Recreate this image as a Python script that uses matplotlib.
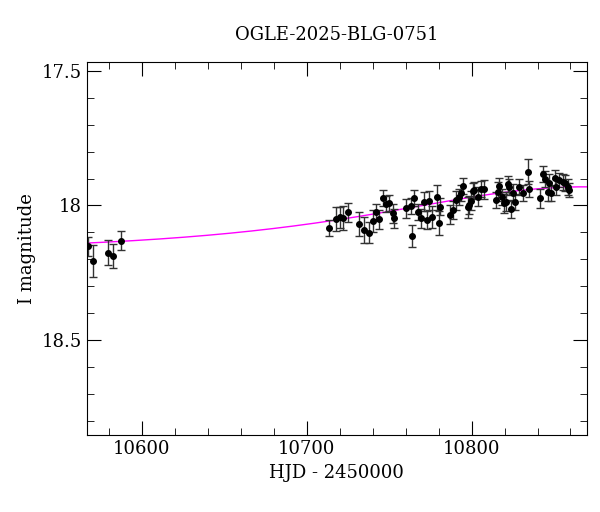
import numpy as np
import matplotlib
matplotlib.use("Agg")
import matplotlib.pyplot as plt
from matplotlib.ticker import MultipleLocator

plt.rcParams["font.family"] = "DejaVu Serif"

# ── Photometry ────────────────────────────────────────────────────────────────
hjd = [10567.3, 10570.3, 10579.4, 10582.5, 10587.5,
       10713.8, 10717.9, 10719.9, 10721.9, 10724.9, 10732.0, 10735.0, 10738.0,
       10740.0, 10742.1, 10743.7, 10746.1, 10748.2, 10750.2, 10752.2, 10753.2,
       10760.3, 10763.3, 10763.9, 10765.3, 10767.3, 10769.4, 10771.4, 10772.8,
       10774.0, 10776.0, 10778.8, 10780.0, 10780.9, 10786.9, 10788.5, 10790.6,
       10792.2, 10793.6, 10795.0, 10797.6, 10798.6, 10799.7, 10800.6, 10801.7,
       10803.7, 10805.7, 10807.7, 10814.8, 10815.8, 10816.8, 10818.5, 10819.9,
       10820.9, 10821.9, 10822.9, 10823.9, 10825.3, 10826.5, 10828.9, 10830.9,
       10834.0, 10835.0, 10841.7, 10843.1, 10844.7, 10846.1, 10847.1, 10848.2,
       10850.8, 10851.5, 10853.2, 10855.2, 10856.8, 10858.2, 10859.2]
mag = [18.151, 18.205, 18.175, 18.187, 18.131,
       18.085, 18.051, 18.044, 18.046, 18.025, 18.069, 18.091, 18.101,
       18.058, 18.025, 18.051, 17.973, 17.994, 17.990, 18.029, 18.048,
       18.010, 18.002, 18.113, 17.973, 18.025, 18.048, 17.986, 18.054,
       17.982, 18.042, 17.970, 18.064, 18.004, 18.035, 18.017, 17.980,
       17.967, 17.955, 17.928, 18.007, 17.998, 17.982, 17.945, 17.942,
       17.967, 17.940, 17.940, 17.980, 17.949, 17.928, 17.970, 17.992,
       17.986, 17.920, 17.932, 18.013, 17.952, 17.986, 17.930, 17.955,
       17.874, 17.940, 17.973, 17.883, 17.903, 17.949, 17.917, 17.955,
       17.899, 17.930, 17.905, 17.912, 17.917, 17.930, 17.942]
err = [0.035, 0.060, 0.045, 0.045, 0.035,
       0.030, 0.045, 0.040, 0.045, 0.035, 0.045, 0.050, 0.040,
       0.040, 0.030, 0.035, 0.030, 0.030, 0.030, 0.035, 0.035,
       0.035, 0.030, 0.040, 0.030, 0.030, 0.035, 0.035, 0.035,
       0.035, 0.040, 0.045, 0.045, 0.030, 0.035, 0.035, 0.035,
       0.030, 0.030, 0.030, 0.040, 0.035, 0.035, 0.030, 0.030,
       0.035, 0.030, 0.035, 0.030, 0.035, 0.030, 0.030, 0.035,
       0.035, 0.030, 0.030, 0.035, 0.030, 0.030, 0.030, 0.030,
       0.045, 0.030, 0.035, 0.030, 0.030, 0.035, 0.035, 0.030,
       0.030, 0.030, 0.025, 0.030, 0.030, 0.030, 0.025]

I0, T0, U0, TE = 18.175, 10868.0, 1.15, 140.0

def model_mag(t):
    u = np.sqrt(U0 ** 2 + ((t - T0) / TE) ** 2)
    amp = (u ** 2 + 2) / (u * np.sqrt(u ** 2 + 4))
    return I0 - 2.5 * np.log10(amp)

fig = plt.figure(figsize=(6, 5.12), dpi=100)
ax = fig.add_axes([0.145, 0.150, 0.833, 0.729])

t_model = np.linspace(10560, 10875, 400)
ax.plot(t_model, model_mag(t_model), color="magenta", lw=1.0, zorder=1)
ax.errorbar(hjd, mag, yerr=err, fmt="o", color="black", ms=4,
            ecolor="#333333", elinewidth=1.0, capsize=3, capthick=1.0, zorder=2)

ax.set_xlim(10566.7, 10869.9)
ax.set_ylim(18.853, 17.467)
ax.xaxis.set_major_locator(MultipleLocator(100))
ax.xaxis.set_minor_locator(MultipleLocator(20))
ax.yaxis.set_major_locator(MultipleLocator(0.5))
ax.yaxis.set_minor_locator(MultipleLocator(0.1))
ax.yaxis.set_major_formatter(plt.FuncFormatter(lambda v, p: f"{v:g}"))
ax.tick_params(which="both", direction="in", top=True, right=True, labelsize=13)
ax.tick_params(which="major", length=10)
ax.tick_params(which="minor", length=5)

ax.set_xlabel("HJD - 2450000", fontsize=13)
ax.set_ylabel("I magnitude", fontsize=13)
ax.set_title("OGLE-2025-BLG-0751", fontsize=13, pad=16)

fig.savefig("out.png", dpi=100)
